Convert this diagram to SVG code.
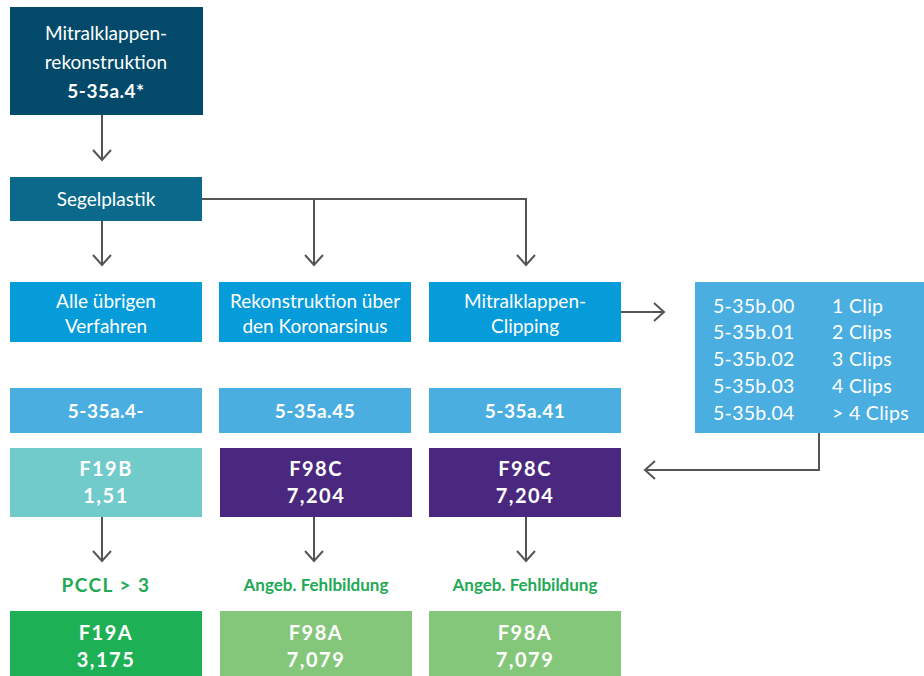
<svg xmlns="http://www.w3.org/2000/svg" width="924" height="676" viewBox="0 0 924 676">
  <defs>
    <marker id="chev" viewBox="0 0 20 20" refX="18" refY="10" markerWidth="20" markerHeight="20" markerUnits="userSpaceOnUse" orient="auto">
      <path d="M8 1 L18 10 L8 19" fill="none" stroke="#555" stroke-width="2"/>
    </marker>
    <style>
      text { font-family: Lato, "Open Sans", "Liberation Sans", sans-serif; fill: #fff; text-anchor: middle; }
      .n { font-size: 19px; }
      .b { font-size: 19px; font-weight: bold; letter-spacing: 0.5px; }
      .f { font-size: 20px; font-weight: bold; letter-spacing: 1.5px; }
      .g { font-weight: bold; fill: #22a955; }
      .l { font-size: 19.5px; text-anchor: start; letter-spacing: 0.3px; }
      .c { fill: none; stroke: #555; stroke-width: 2; marker-end: url(#chev); }
    </style>
  </defs>

  <g id="connectors">
    <path class="c" d="M102 115 V160"/>
    <path class="c" d="M102 221 V265"/>
    <path class="c" d="M202 199 H526 V265"/>
    <path class="c" d="M314 199 V265"/>
    <path class="c" d="M621 312 H664"/>
    <path class="c" d="M819 433 V470 H645"/>
    <path class="c" d="M102 517 V561"/>
    <path class="c" d="M314 517 V561"/>
    <path class="c" d="M526 517 V561"/>
  </g>

  <g id="mitral-rekon">
    <rect x="10" y="7" width="193" height="108" fill="#034a6a"/>
    <text class="n" x="106" y="40">Mitralklappen-</text>
    <text class="n" x="106" y="69">rekonstruktion</text>
    <text class="b" x="106" y="98">5-35a.4*</text>
  </g>

  <g id="segelplastik">
    <rect x="10" y="177" width="192" height="44" fill="#0b6a8b"/>
    <text class="n" x="106" y="206">Segelplastik</text>
  </g>

  <g id="alle">
    <rect x="10" y="282" width="192" height="60" fill="#069bd9"/>
    <text class="n" x="106" y="308">Alle übrigen</text>
    <text class="n" x="106" y="333">Verfahren</text>
  </g>
  <g id="koronarsinus">
    <rect x="219" y="282" width="192" height="60" fill="#069bd9"/>
    <text class="n" x="315" y="308">Rekonstruktion über</text>
    <text class="n" x="315" y="333">den Koronarsinus</text>
  </g>
  <g id="clipping">
    <rect x="429" y="282" width="192" height="60" fill="#069bd9"/>
    <text class="n" x="525" y="308">Mitralklappen-</text>
    <text class="n" x="525" y="333">Clipping</text>
  </g>

  <g id="clips">
    <rect x="695" y="282" width="229" height="151" fill="#4aaee1"/>
    <text class="l" x="713" y="313">5-35b.00</text>
    <text class="l" x="832" y="313">1 Clip</text>
    <text class="l" x="713" y="339">5-35b.01</text>
    <text class="l" x="832" y="339">2 Clips</text>
    <text class="l" x="713" y="366">5-35b.02</text>
    <text class="l" x="832" y="366">3 Clips</text>
    <text class="l" x="713" y="393">5-35b.03</text>
    <text class="l" x="832" y="393">4 Clips</text>
    <text class="l" x="713" y="420">5-35b.04</text>
    <text class="l" x="832" y="420">&gt; 4 Clips</text>
  </g>

  <g id="code-a4">
    <rect x="10" y="388" width="192" height="45" fill="#4aaee1"/>
    <text class="b" x="106" y="418">5-35a.4-</text>
  </g>
  <g id="code-a45">
    <rect x="219" y="388" width="192" height="45" fill="#4aaee1"/>
    <text class="b" x="315" y="418">5-35a.45</text>
  </g>
  <g id="code-a41">
    <rect x="429" y="388" width="192" height="45" fill="#4aaee1"/>
    <text class="b" x="525" y="418">5-35a.41</text>
  </g>

  <g id="f19b">
    <rect x="10" y="448" width="192" height="69" fill="#71cbca"/>
    <text class="f" x="106" y="476">F19B</text>
    <text class="f" x="106" y="503">1,51</text>
  </g>
  <g id="f98c-1">
    <rect x="220" y="448" width="192" height="69" fill="#4b2880"/>
    <text class="f" x="316" y="476">F98C</text>
    <text class="f" x="316" y="503">7,204</text>
  </g>
  <g id="f98c-2">
    <rect x="429" y="448" width="192" height="69" fill="#4b2880"/>
    <text class="f" x="525" y="476">F98C</text>
    <text class="f" x="525" y="503">7,204</text>
  </g>

  <g id="pccl">
    <text class="g" x="106" y="592" font-size="19" letter-spacing="1.5">PCCL &gt; 3</text>
  </g>
  <g id="fehlbildung-1">
    <text class="g" x="316" y="591" font-size="17">Angeb. Fehlbildung</text>
  </g>
  <g id="fehlbildung-2">
    <text class="g" x="525" y="591" font-size="17">Angeb. Fehlbildung</text>
  </g>

  <g id="f19a">
    <rect x="10" y="611" width="192" height="65" fill="#1eb055"/>
    <text class="f" x="106" y="640">F19A</text>
    <text class="f" x="106" y="667">3,175</text>
  </g>
  <g id="f98a-1">
    <rect x="220" y="611" width="192" height="65" fill="#85c77a"/>
    <text class="f" x="316" y="640">F98A</text>
    <text class="f" x="316" y="667">7,079</text>
  </g>
  <g id="f98a-2">
    <rect x="429" y="611" width="192" height="65" fill="#85c77a"/>
    <text class="f" x="525" y="640">F98A</text>
    <text class="f" x="525" y="667">7,079</text>
  </g>
</svg>
